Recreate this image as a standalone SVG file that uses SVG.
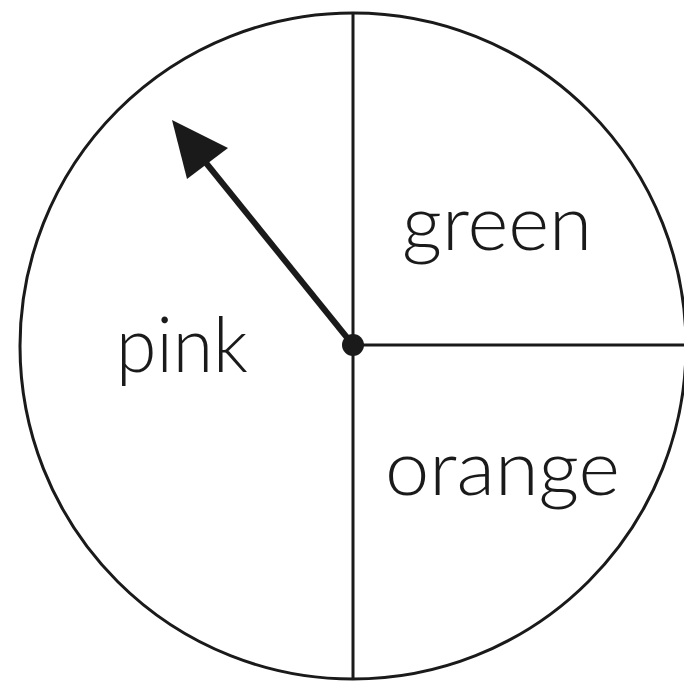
<svg xmlns="http://www.w3.org/2000/svg" width="684" height="683" viewBox="0 0 684 683">
  <style>
    .ln { stroke: #1a1a1a; stroke-width: 3; fill: none; }
    .lbl { font-family: "Lato", "Liberation Sans", Arial, sans-serif; font-weight: 300; font-size: 76px; fill: #1a1a1a; }
  </style>
  <rect width="684" height="683" fill="#ffffff"/>
  <g id="spinner">
    <circle class="ln" cx="353" cy="346" r="333"/>
    <line class="ln" x1="353" y1="12" x2="353" y2="680"/>
    <line class="ln" x1="353" y1="345" x2="684" y2="345"/>
  </g>
  <g id="labels">
    <text class="lbl" x="402" y="250" textLength="190" lengthAdjust="spacingAndGlyphs">green</text>
    <text class="lbl" x="116" y="372" textLength="132" lengthAdjust="spacingAndGlyphs">pink</text>
    <text class="lbl" x="385" y="495" textLength="235" lengthAdjust="spacingAndGlyphs">orange</text>
  </g>
  <g id="pointer">
    <line x1="353" y1="345" x2="198" y2="153" stroke="#1a1a1a" stroke-width="6"/>
    <polygon points="172,120 228,148 187,179" fill="#1a1a1a"/>
    <circle cx="353" cy="345" r="11" fill="#1a1a1a"/>
  </g>
</svg>
